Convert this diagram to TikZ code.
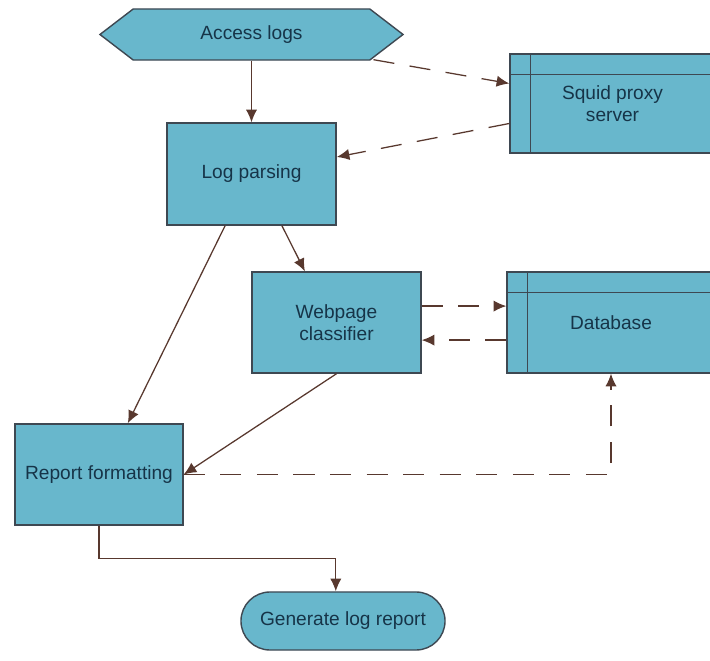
\documentclass[tikz,border=0pt]{standalone}
\usepackage{fontspec}
\setmainfont{Liberation Sans}
\usepackage{tikz}
\usetikzlibrary{arrows.meta,positioning,calc,shapes.symbols,shapes.misc}
\definecolor{boxfill}{RGB}{104,183,204}
\definecolor{boxedge}{RGB}{62,72,82}
\definecolor{flowline}{RGB}{88,56,46}
\definecolor{boxtext}{RGB}{22,52,72}
\tikzset{proc/.style={rectangle, draw=boxedge, fill=boxfill, line width=1pt, text=boxtext, align=center, font=\fontsize{13.6}{15.5}\selectfont, inner sep=0pt},
	store/.style={proc, path picture={\draw[boxedge, line width=1.2pt] ([xshift=0.51cm]path picture bounding box.north west) -- ([xshift=0.51cm]path picture bounding box.south west);
		\draw[boxedge, line width=1.2pt] ([yshift=-0.51cm]path picture bounding box.north west) -- ([yshift=-0.51cm]path picture bounding box.north east);}},
	flow/.style={flowline, line width=0.9pt, -{Latex[length=9pt,width=8pt]}},
	dflow/.style={flow, dash pattern=on 15pt off 11pt}}

\begin{document}
\begin{tikzpicture}[x=0.025cm,y=-0.025cm]
		\useasboundingbox (0,0) rectangle (710,661);
		\node[proc, shape=signal, signal to=west and east, signal pointer angle=75, minimum width=7.575cm, minimum height=1.275cm] (access) at (251.5,34.5) {Access logs};
		\node[store, minimum width=5.125cm, minimum height=2.475cm] (squid) at (612.5,103.5) {Squid proxy\\server};
		\node[proc, minimum width=4.225cm, minimum height=2.55cm] (logp) at (251.5,174) {Log parsing};
		\node[proc, minimum width=4.225cm, minimum height=2.525cm] (web) at (336.5,322.5) {Webpage\\classifier};
		\node[store, minimum width=5.2cm, minimum height=2.525cm] (db) at (611,322.5) {Database};
		\node[proc, minimum width=4.2cm, minimum height=2.525cm] (report) at (99,474.5) {Report formatting};
		\node[proc, shape=rounded rectangle, minimum width=5.1cm, minimum height=1.45cm] (gen) at (343,621) {Generate log report};
		\draw[flow] (access.south) -- (logp.north);
		\draw[dflow] ($(access.south)+(122,-1)$) -- ([yshift=0.5cm]squid.west);
		\draw[dflow] ([yshift=-0.5cm]squid.west) -- ([yshift=0.425cm]logp.east);
		\draw[flow] ([xshift=0.76cm]logp.south) -- ([xshift=-0.79cm]web.north);
		\draw[flow] ([xshift=-0.66cm]logp.south) -- ([xshift=0.72cm]report.north);
		\draw[dflow] ([yshift=0.41cm]web.east) -- ([yshift=0.41cm]db.west);
		\draw[dflow] ([yshift=-0.44cm]db.west) -- ([yshift=-0.44cm]web.east);
		\draw[flow] (web.south) -- (report.east);
		\draw[dflow] (report.east) -| (db.south);
		\draw[flow] (report.south) -- ++(0,33) -| ([xshift=-0.18cm]gen.north);
		\end{tikzpicture}
\end{document}
